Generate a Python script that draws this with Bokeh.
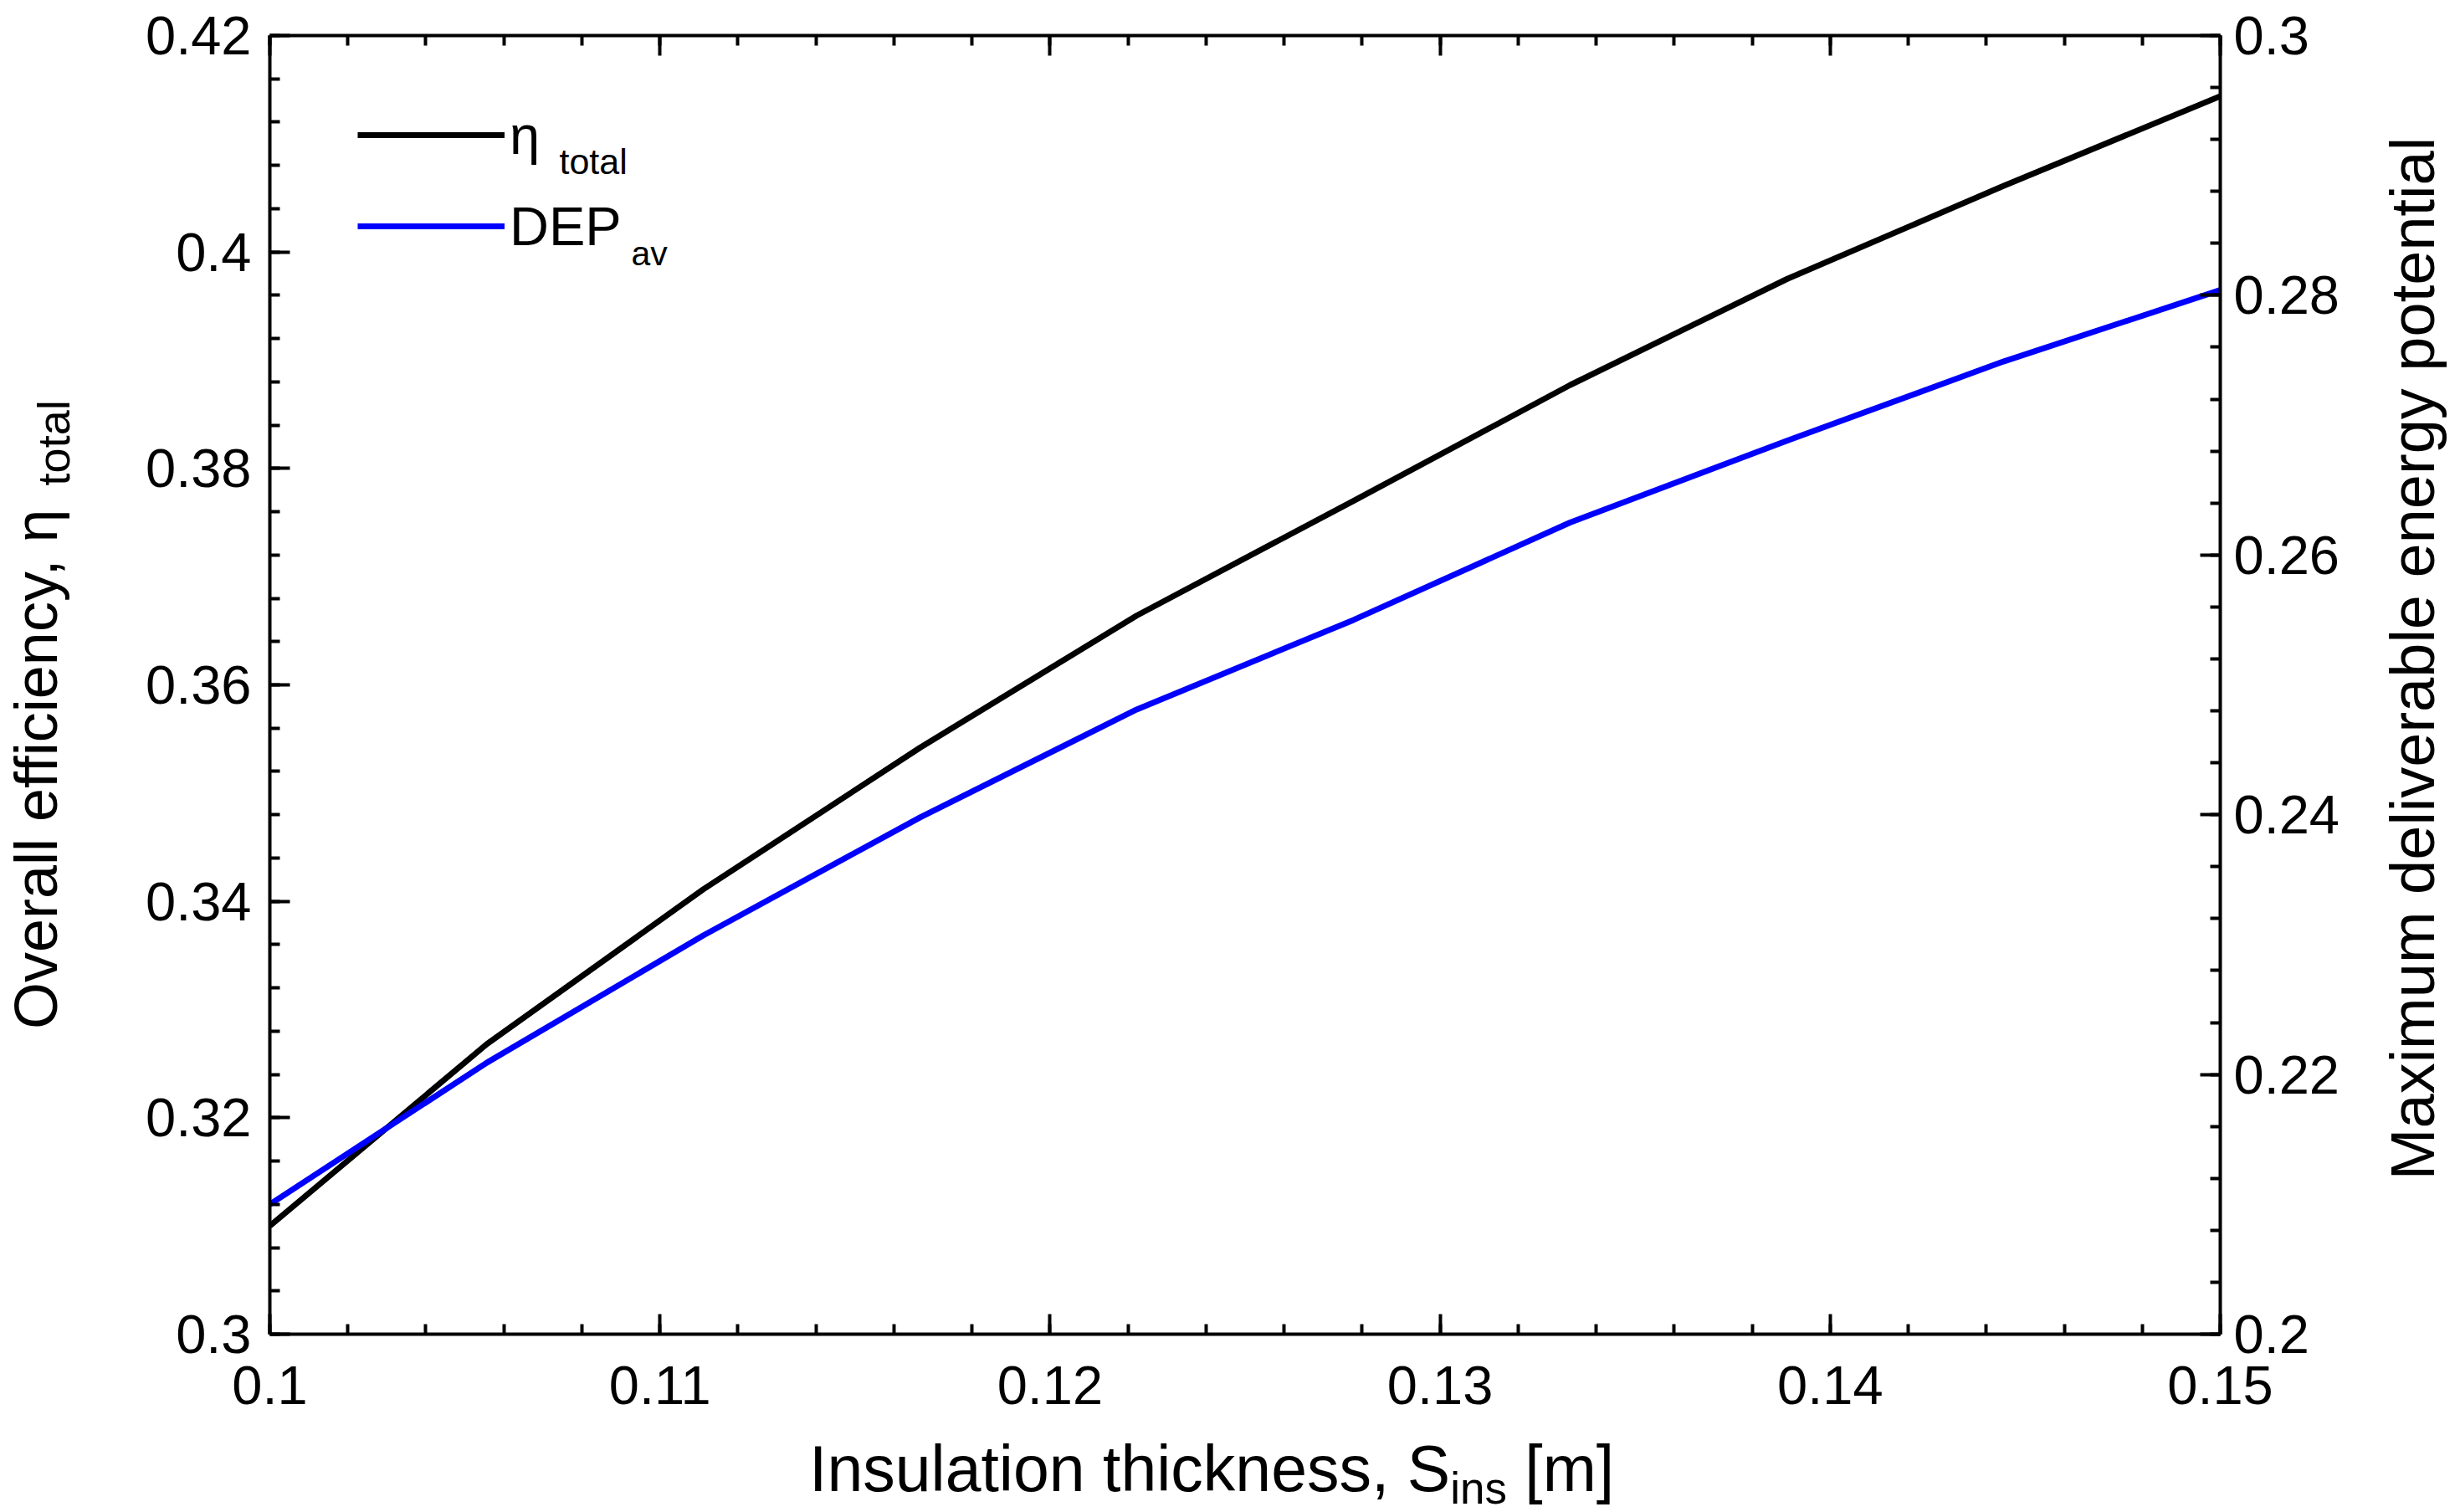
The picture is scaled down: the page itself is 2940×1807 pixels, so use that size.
from bokeh.plotting import figure
from bokeh.models import Range1d, LinearAxis, FixedTicker, Label, Legend, LegendItem, Div
from bokeh.layouts import row, column
from bokeh.embed import file_html
from bokeh.resources import INLINE

# ---- data ----
thickness = [0.1, 0.10556, 0.11111, 0.11667, 0.12222, 0.12778, 0.13333, 0.13889, 0.14444, 0.15]
eta_total = [0.3100, 0.3268, 0.3411, 0.3542, 0.3664, 0.3770, 0.3877, 0.3975, 0.4061, 0.4144]
dep_av = [0.2100, 0.2209, 0.2307, 0.2398, 0.2481, 0.2550, 0.2625, 0.2688, 0.2749, 0.2804]

x_ticks = [0.1, 0.11, 0.12, 0.13, 0.14, 0.15]
x_tick_labels = ["0.1", "0.11", "0.12", "0.13", "0.14", "0.15"]
eta_ticks = [0.3, 0.32, 0.34, 0.36, 0.38, 0.4, 0.42]
eta_tick_labels = ["0.3", "0.32", "0.34", "0.36", "0.38", "0.4", "0.42"]
dep_ticks = [0.2, 0.22, 0.24, 0.26, 0.28, 0.3]
dep_tick_labels = ["0.2", "0.22", "0.24", "0.26", "0.28", "0.3"]

x_minor = [round(0.1 + 0.002 * i, 4) for i in range(26)]
eta_minor = [round(0.3 + 0.004 * i, 4) for i in range(31)]
dep_minor = [round(0.2 + 0.004 * i, 4) for i in range(26)]

FONT = "Liberation Sans"
TICK_FS = "65px"

LEFT_W, FIG_W, RIGHT_W = 100, 2730, 100
FIG_H, BOTTOM_H = 1714, 77
TOTAL_H = FIG_H + BOTTOM_H
FRAME_TOP, FRAME_BOTTOM = 42, 1594
FRAME_H = FRAME_BOTTOM - FRAME_TOP

p = figure(width=FIG_W, height=FIG_H, output_backend="svg", toolbar_location=None,
           x_range=Range1d(0.1, 0.15), y_range=Range1d(0.3, 0.42),
           x_axis_location=None, y_axis_location=None,
           min_border_left=222, min_border_right=177, min_border_top=FRAME_TOP,
           min_border_bottom=FIG_H - FRAME_BOTTOM)
p.extra_y_ranges = {"dep": Range1d(0.2, 0.3)}
p.grid.visible = False
p.outline_line_color = None
p.background_fill_color = "white"
p.border_fill_color = "white"


def style_axis(ax, ticks, minor, labels, standoff):
    ax.ticker = FixedTicker(ticks=ticks, minor_ticks=minor)
    ax.major_label_overrides = {t: l for t, l in zip(ticks, labels)}
    ax.axis_line_color = "black"
    ax.axis_line_width = 4
    ax.major_tick_line_color = "black"
    ax.major_tick_line_width = 4
    ax.minor_tick_line_color = "black"
    ax.minor_tick_line_width = 4
    ax.major_tick_in = 24
    ax.major_tick_out = 0
    ax.minor_tick_in = 12
    ax.minor_tick_out = 0
    ax.major_label_text_font = FONT
    ax.major_label_text_color = "black"
    ax.major_label_standoff = standoff
    ax.major_label_text_font_size = TICK_FS


xb = LinearAxis()
style_axis(xb, x_ticks, x_minor, x_tick_labels, 38)
p.add_layout(xb, "below")
xt = LinearAxis()
style_axis(xt, x_ticks, x_minor, ["" for _ in x_ticks], 0)
p.add_layout(xt, "above")
yl = LinearAxis()
style_axis(yl, eta_ticks, eta_minor, eta_tick_labels, 22)
p.add_layout(yl, "left")
yr = LinearAxis(y_range_name="dep")
style_axis(yr, dep_ticks, dep_minor, dep_tick_labels, 16)
p.add_layout(yr, "right")

r_eta = p.line(thickness, eta_total, line_color="black", line_width=7)
r_dep = p.line(thickness, dep_av, line_color="#0000ff", line_width=7, y_range_name="dep")

legend = Legend(items=[LegendItem(label="η", renderers=[r_eta]),
                       LegendItem(label="DEP", renderers=[r_dep])],
                location=(105, FRAME_H - 273), glyph_width=176, glyph_height=90, spacing=19,
                padding=0, margin=0, label_standoff=6,
                label_text_font=FONT, label_text_font_size="65px", label_text_color="black",
                background_fill_alpha=0, border_line_alpha=0)
p.add_layout(legend)


def lab(text, x, y, size):
    p.add_layout(Label(x=x, y=y, x_units="screen", y_units="screen", text=text,
                       text_font=FONT, text_font_size=size, text_color="black",
                       text_align="left", text_baseline="alphabetic"))


# legend subscripts (page baselines at y=192 and y=302)
lab("total", 346, FRAME_BOTTOM - 192, "43px")
lab("av", 432, FRAME_BOTTOM - 302, "41px")

BASE = 0.8465  # baseline inside a line box whose line-height equals the font size
DIV_DY = 10    # measured downward offset of the Div contents


def div_html(inner, left, top, fs, rotate=False, width=None, align="left"):
    style = ["position:absolute", f"left:{left:.1f}px", f"top:{top:.1f}px",
             f"font-family:'{FONT}'", f"font-size:{fs}px", f"line-height:{fs}px",
             "white-space:nowrap", "color:#000", f"text-align:{align}", "margin:0", "padding:0"]
    if width is not None:
        style.append(f"width:{width}px")
    if rotate:
        style += ["transform-origin:0 0", "transform:rotate(-90deg)"]
    return ('<div style="position:relative;width:100%;height:100%;overflow:visible">'
            f'<div style="{";".join(style)}">{inner}</div></div>')


def sub(text, fs, drop, gap=0):
    return (f'<span style="font-size:{fs}px;position:relative;top:{drop}px;'
            f'margin-left:{gap}px">{text}</span>')


# x axis title (baseline at y=1780, starts at x=967 in page pixels)
FS_X = 77
x_title = div_html("Insulation thickness, S" + sub("ins", 53, 15) + " [m]",
                   967 - LEFT_W, (1780 - DIV_DY - FIG_H) - BASE * FS_X, FS_X)
bottom_div = Div(text=x_title, width=FIG_W, height=BOTTOM_H, margin=0,
                 styles={"overflow": "visible"})

# left y axis title (rotated, baseline at x=68, glyphs start at y=1227)
FS_L = 72
l_title = div_html("Overall efficiency, η " + sub("total", 54, 15, gap=8),
                   68 - BASE * FS_L, 1227 + 4 - DIV_DY - 3, FS_L, rotate=True)
left_div = Div(text=l_title, width=LEFT_W, height=TOTAL_H, margin=0,
               styles={"overflow": "visible"})

# right y axis title (rotated, baseline at x=2910, centred at y=781)
FS_R = 74
R_BOX = 1400
r_title = div_html("Maximum deliverable energy potential",
                   2910 - (LEFT_W + FIG_W) - BASE * FS_R, 781 - 6 + R_BOX / 2, FS_R,
                   rotate=True, width=R_BOX, align="center")
right_div = Div(text=r_title, width=RIGHT_W, height=TOTAL_H, margin=0,
                styles={"overflow": "visible"})

layout = row(left_div, column(p, bottom_div, spacing=0), right_div, spacing=0)

open("out.html", "w").write(file_html(layout, INLINE))
